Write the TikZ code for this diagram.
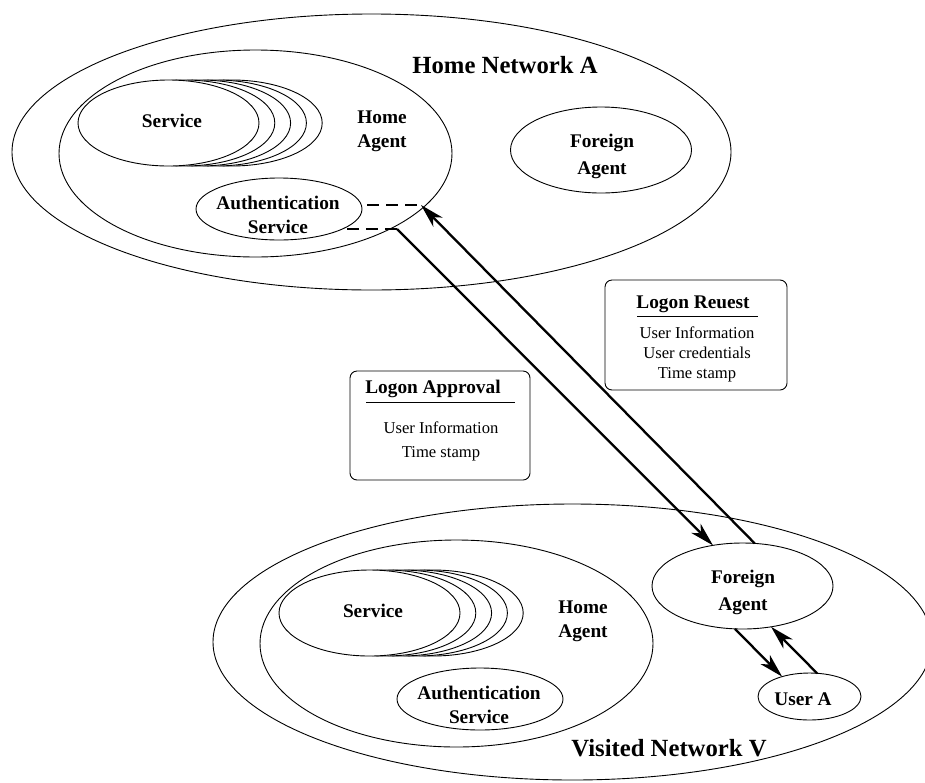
\documentclass[tikz,border=0pt]{standalone}
\usepackage{fontspec}
\setmainfont{Liberation Serif}
\usetikzlibrary{arrows.meta,shapes.geometric}
\begin{document}
\begin{tikzpicture}[x=1pt,y=-1pt,
  oval/.style={ellipse,draw,line width=0.9pt,inner sep=0pt,outer sep=0pt},
  svc/.style={oval,fill=white,minimum width=181pt,minimum height=86pt},
  agentoval/.style={oval,minimum width=181pt,minimum height=86pt},
  lbl/.style={font=\fontsize{19.3}{24}\selectfont\bfseries,anchor=base,inner sep=0pt},
  big/.style={font=\fontsize{24.7}{30}\selectfont\bfseries,anchor=base,inner sep=0pt},
  txt/.style={font=\fontsize{16.6}{20}\selectfont,anchor=base,inner sep=0pt},
  msgbox/.style={draw,rounded corners=7pt,line width=0.9pt,inner sep=0pt,outer sep=0pt},
  rule/.style={line width=0.9pt},
  flow/.style={line width=2.3pt,-{Stealth[length=24pt,width=13pt,inset=7pt]}},
  link/.style={line width=2.4pt,dash pattern=on 12pt off 7pt},
]
\useasboundingbox (0,0) rectangle (925,782);

% ---------- Home network A ----------
\node[oval,minimum width=719pt,minimum height=276pt] (netA) at (371.5,152) {};
\node[oval,minimum width=393pt,minimum height=207pt] (haA) at (255.5,153.5) {};
\foreach \k in {4,3,2,1,0}
  \node[svc] (svcA\k) at ({168.5+15.8*\k},123) {};
\node[oval,minimum width=166pt,minimum height=62pt] (authA) at (279,209) {};
\node[agentoval] (faA) at (601,150) {};

\node[big] (titleA) at (505,73.2) {Home Network A};
\node[lbl] (svcAtxt) at (172,127.4) {Service};
\node[lbl] (haAtxt1) at (382,123.4) {Home};
\node[lbl] (haAtxt2) at (382,147.4) {Agent};
\node[lbl] (authAtxt1) at (278,209.4) {Authentication};
\node[lbl] (authAtxt2) at (278,233.4) {Service};
\node[lbl] (faAtxt1) at (602,147.4) {Foreign};
\node[lbl] (faAtxt2) at (602,174.4) {Agent};

% ---------- Visited network V ----------
\node[oval,minimum width=719pt,minimum height=276pt] (netV) at (572.5,642) {};
\node[oval,minimum width=393pt,minimum height=207pt] (haV) at (456.5,643.5) {};
\foreach \k in {4,3,2,1,0}
  \node[svc] (svcV\k) at ({369.5+15.8*\k},613) {};
\node[oval,minimum width=166pt,minimum height=62pt] (authV) at (480,699) {};
\node[agentoval] (faV) at (742.5,586) {};
\node[oval,minimum width=103pt,minimum height=47pt] (ua) at (809.5,696.5) {};

\node[big] (titleV) at (669,756.2) {Visited Network V};
\node[lbl] (svcVtxt) at (373,617.4) {Service};
\node[lbl] (haVtxt1) at (583,613.4) {Home};
\node[lbl] (haVtxt2) at (583,637.4) {Agent};
\node[lbl] (authVtxt1) at (479,699.4) {Authentication};
\node[lbl] (authVtxt2) at (479,723.4) {Service};
\node[lbl] (faVtxt1) at (743,583.4) {Foreign};
\node[lbl] (faVtxt2) at (743,610.4) {Agent};
\node[lbl] (uatxt) at (803,705.4) {User A};

% ---------- message boxes ----------
\node[msgbox,minimum width=182pt,minimum height=110pt] (reqBox) at (696,335) {};
\node[lbl] (reqTitle) at (693,308.4) {Logon Reuest};
\draw[rule] (637,316) -- (758,316);
\node[txt] (req1) at (697,338.5) {User Information};
\node[txt] (req2) at (697,358.5) {User credentials};
\node[txt] (req3) at (697,378.5) {Time stamp};

\node[msgbox,minimum width=180pt,minimum height=109pt] (appBox) at (440,425.5) {};
\node[lbl] (appTitle) at (433,393.4) {Logon Approval};
\draw[rule] (366,402) -- (515,402);
\node[txt] (app1) at (441,433.5) {User Information};
\node[txt] (app2) at (441,457.5) {Time stamp};

% ---------- message flow ----------
\coordinate (authReq) at (367,205);
\coordinate (reqIn) at (421,205);
\coordinate (authApp) at (347,229);
\coordinate (appOut) at (397,229);

\draw[link] (authReq) -- (reqIn);
\draw[link] (authApp) -- (appOut);
\draw[flow] (faV.74) -- (reqIn);
\draw[flow] (appOut) -- (faV.126);
\draw[flow] (faV.260) -- (ua.144);
\draw[flow] (ua.72) -- (faV.305);
\end{tikzpicture}
\end{document}
